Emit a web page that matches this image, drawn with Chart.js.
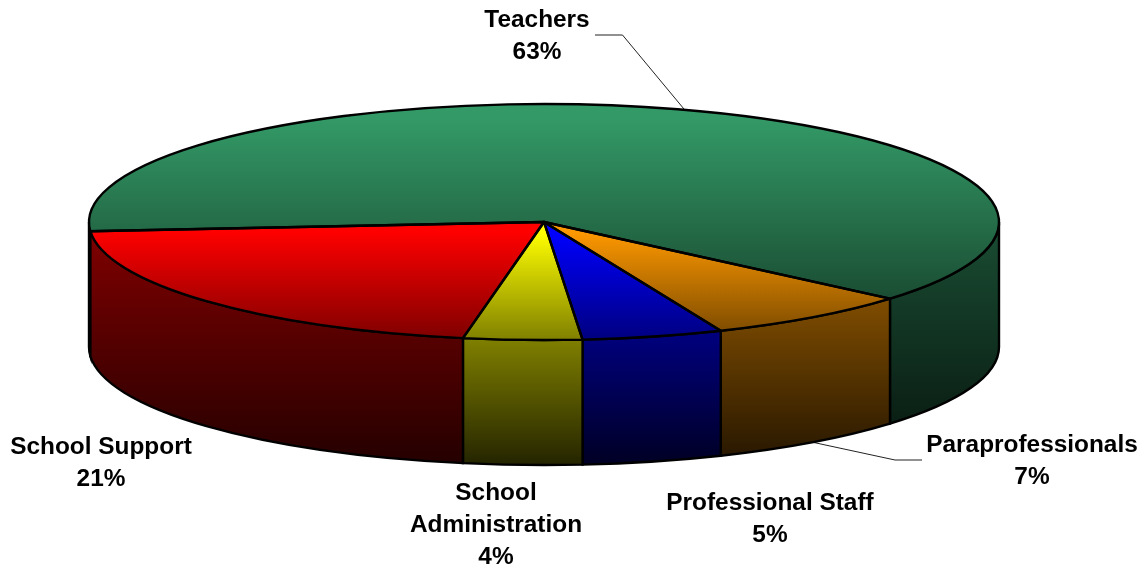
<!DOCTYPE html>
<html>
<head>
<meta charset="utf-8">
<title>Staff by category</title>
<script src="https://cdn.jsdelivr.net/npm/chart.js@4/dist/chart.umd.min.js"></script>
<style>
  html, body { margin: 0; padding: 0; background: #fff; }
  canvas { display: block; }
</style>
</head>
<body>
<canvas id="staffPie" width="1146" height="569"></canvas>
<script>
// chart data, slice sizes (labels show them rounded)
const categories = ["Teachers", "Paraprofessionals", "Professional Staff", "School Administration", "School Support"];
const shares = [62.5, 7.4, 5, 4.2, 20.9];
const sliceColors = [[51, 153, 102], [255, 153, 0], [0, 0, 255], [255, 255, 0], [255, 0, 0]];

// look of the 3D pie
const pieRadius = 455;
const pieTilt = 118 / 455;
const pieDepth = 125;
const pieRotation = 265.5; // degrees, 0 = up

// label placement: centre x, y of first row
const labelSpots = [[537, 20], [1032, 445], [770, 503], [496, 493], [101, 447]];
const labelRowHeight = 32;
// leader line elbows, only two slices have one
const leaderElbows = [[[622.5, 35], [595, 35]], [[895, 460], [922, 460]], null, null, null];

const total = shares.reduce((a, b) => a + b, 0);

function sliceAngles(i) {
  const before = shares.slice(0, i).reduce((a, b) => a + b, 0);
  const first = ((pieRotation - 90) * Math.PI) / 180;
  return [first + (before / total) * 2 * Math.PI, first + ((before + shares[i]) / total) * 2 * Math.PI];
}

// y range (unit circle) of a slice including the centre point
function sliceRange(i) {
  const [a0, a1] = sliceAngles(i);
  let lo = Math.min(0, Math.sin(a0), Math.sin(a1));
  let hi = Math.max(0, Math.sin(a0), Math.sin(a1));
  for (let k = -1; k < 6; k++) {
    const peak = Math.PI / 2 + k * Math.PI;
    if (peak > a0 && peak < a1) {
      lo = Math.min(lo, Math.sin(peak));
      hi = Math.max(hi, Math.sin(peak));
    }
  }
  return [lo, hi];
}

function shade(rgb, f) {
  return "rgb(" + rgb.map((c) => Math.round(c * f)).join(",") + ")";
}

// top face gradient: full colour fading to half
function topFill(context) {
  const chart = context.chart;
  const area = chart.chartArea;
  if (context.dataIndex === undefined || !area) return "#000";
  const cy = (area.top + area.bottom) / 2;
  const [lo, hi] = sliceRange(context.dataIndex);
  const g = chart.ctx.createLinearGradient(0, cy + lo * pieRadius, 0, cy + hi * pieRadius);
  g.addColorStop(0.08, shade(sliceColors[context.dataIndex], 1));
  g.addColorStop(1, shade(sliceColors[context.dataIndex], 0.5));
  return g;
}

function drawWalls(ctx, arc, i) {
  const ry = pieRadius * pieTilt;
  for (let k = 0; k < 3; k++) {
    const a0 = Math.max(arc.startAngle, k * 2 * Math.PI - 2 * Math.PI);
    const a1 = Math.min(arc.endAngle, k * 2 * Math.PI - Math.PI);
    if (a1 <= a0) continue;
    const top = arc.y + Math.min(Math.sin(a0), Math.sin(a1)) * ry;
    const g = ctx.createLinearGradient(0, top, 0, arc.y + ry + pieDepth);
    g.addColorStop(0, shade(sliceColors[i], 0.5));
    g.addColorStop(1, shade(sliceColors[i], 0.14));
    ctx.beginPath();
    ctx.ellipse(arc.x, arc.y, pieRadius, ry, 0, a0, a1);
    ctx.ellipse(arc.x, arc.y + pieDepth, pieRadius, ry, 0, a1, a0, true);
    ctx.closePath();
    ctx.fillStyle = g;
    ctx.fill();
    ctx.lineWidth = 2.4;
    ctx.strokeStyle = "#000";
    ctx.stroke();
  }
}

const pie3d = {
  id: "pie3d",
  beforeDatasetsDraw(chart) {
    const ctx = chart.ctx;
    const arcs = chart.getDatasetMeta(0).data;
    arcs.forEach((arc, i) => drawLeader(ctx, arc, i));
    arcs.forEach((arc, i) => drawWalls(ctx, arc, i));
    // squash the library's round pie into an ellipse
    const cy = arcs[0].y;
    ctx.save();
    ctx.translate(0, cy);
    ctx.scale(1, pieTilt);
    ctx.translate(0, -cy);
  },
  afterDatasetsDraw(chart) {
    const ctx = chart.ctx;
    ctx.restore();
    const arcs = chart.getDatasetMeta(0).data;
    ctx.lineJoin = "round";
    ctx.lineWidth = 2.4;
    ctx.strokeStyle = "#000";
    arcs.forEach((arc) => {
      ctx.beginPath();
      ctx.moveTo(arc.x, arc.y);
      ctx.ellipse(arc.x, arc.y, pieRadius, pieRadius * pieTilt, 0, arc.startAngle, arc.endAngle);
      ctx.closePath();
      ctx.stroke();
    });
    drawLabels(ctx);
  },
};

function drawLeader(ctx, arc, i) {
  const elbow = leaderElbows[i];
  if (!elbow) return;
  const mid = (arc.startAngle + arc.endAngle) / 2;
  const front = Math.sin(mid) > 0 ? pieDepth : 0;
  ctx.beginPath();
  ctx.moveTo(arc.x + Math.cos(mid) * pieRadius, arc.y + front + Math.sin(mid) * pieRadius * pieTilt);
  elbow.forEach((p) => ctx.lineTo(p[0], p[1]));
  ctx.lineWidth = 1;
  ctx.strokeStyle = "#222";
  ctx.stroke();
}

function drawLabels(ctx) {
  ctx.fillStyle = "#000";
  ctx.font = 'bold 24.4px "Liberation Sans", Arial, sans-serif';
  ctx.textAlign = "center";
  ctx.textBaseline = "middle";
  categories.forEach((name, i) => {
    const rows = name === "School Administration" ? name.split(" ") : [name];
    rows.push(Math.round(shares[i]) + "%");
    rows.forEach((row, r) => {
      ctx.fillText(row, labelSpots[i][0], labelSpots[i][1] + r * labelRowHeight);
    });
  });
}

new Chart(document.getElementById("staffPie").getContext("2d"), {
  type: "pie",
  data: {
    labels: categories,
    datasets: [
      {
        data: shares,
        backgroundColor: topFill,
        borderWidth: 0,
        clip: false,
      },
    ],
  },
  options: {
    responsive: false,
    animation: false,
    radius: pieRadius,
    rotation: pieRotation,
    layout: { padding: { right: 58, bottom: pieDepth } },
    plugins: {
      legend: { display: false },
      tooltip: { enabled: false },
    },
  },
  plugins: [pie3d],
});
</script>
</body>
</html>
